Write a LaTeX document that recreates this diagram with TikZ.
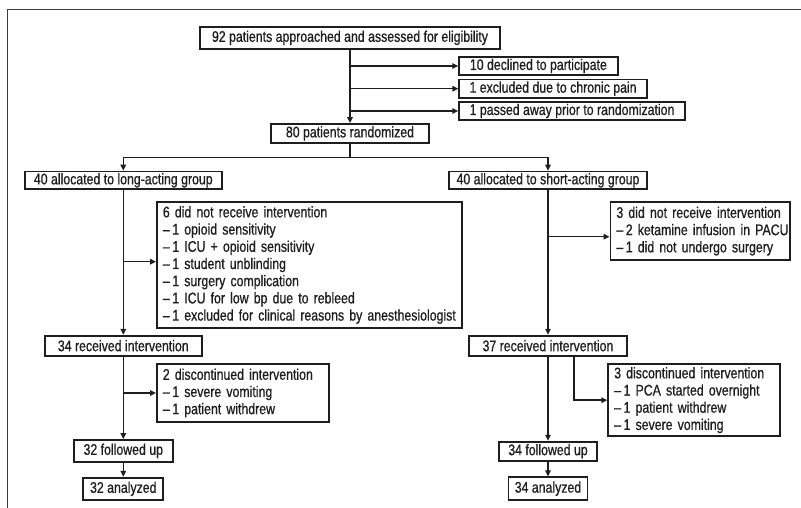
\documentclass[tikz,border=0pt]{standalone}
\usepackage{fontspec}
\setmainfont{Liberation Sans}[FakeStretch=0.80,FakeBold=0.8]
\usetikzlibrary{arrows.meta,calc}
\definecolor{ink}{HTML}{1E1E1E}
\definecolor{frame}{HTML}{3C3C3C}
\newcommand{\flowline}[1]{\mbox{#1}}
\tikzset{
  box/.style={draw=ink, line width=1.8pt, inner sep=0pt, align=center, anchor=center, text=ink},
  leftbox/.style={draw=ink, line width=1.8pt, inner xsep=0pt, inner ysep=0pt, align=center, anchor=west, text=ink},
  multibox/.style={draw=ink, line width=1.8pt, inner xsep=6pt, inner ysep=1pt, align=left, anchor=west, text=ink},
  conn/.style={draw=ink, line width=1.4pt},
  arr/.style={conn, -{Triangle[length=6pt,width=5.5pt]}},
  framestyle/.style={draw=frame, line width=1.2pt}
}
\begin{document}
\begin{tikzpicture}[x=1pt,y=-1pt,font=\fontsize{15.4}{17.2}\selectfont]
\useasboundingbox (0,0) rectangle (801,508);
% partial outer frame
\coordinate (fr1) at (801,9.5);
\coordinate (fr2) at (7.5,9.5);
\coordinate (fr3) at (7.5,508);
\draw[framestyle] (fr1) -- (fr2) -- (fr3);

% top
\node[box, minimum width=299.5pt, minimum height=22.3pt] (A) at (350,37.85) {92 patients approached and assessed for eligibility};
\node[leftbox, minimum width=158.4pt, minimum height=18.3pt] (D1) at (458.3,66) {10 declined to participate};
\node[leftbox, minimum width=187.7pt, minimum height=18.3pt] (D2) at (458.3,88.7) {1 excluded due to chronic pain};
\node[leftbox, minimum width=225.7pt, minimum height=18.7pt] (D3) at (458.3,111) {1 passed away prior to randomization};
\node[box, minimum width=157.3pt, minimum height=18.7pt] (R) at (350,133.35) {80 patients randomized};

% allocation
\node[box, minimum width=197.3pt, minimum height=17.5pt] (L1) at (123.3,180.35) {40 allocated to long-acting group};
\node[box, minimum width=197.4pt, minimum height=17.5pt] (S1) at (548,180.35) {40 allocated to short-acting group};

% exclusions after allocation
\node[multibox, text width=293pt, minimum height=126.6pt] (LX) at (156,265) {\flowline{6 did not receive intervention}\\
\flowline{\textendash\,1 opioid sensitivity}\\
\flowline{\textendash\,1 ICU + opioid sensitivity}\\
\flowline{\textendash\,1 student unblinding}\\
\flowline{\textendash\,1 surgery complication}\\
\flowline{\textendash\,1 ICU for low bp due to rebleed}\\
\flowline{\textendash\,1 excluded for clinical reasons by anesthesiologist}};
\node[multibox, text width=167.8pt, minimum height=57.7pt] (SX) at (609.5,231.15) {\flowline{3 did not receive intervention}\\
\flowline{\textendash\,2 ketamine infusion in PACU}\\
\flowline{\textendash\,1 did not undergo surgery}};

% received
\node[box, minimum width=157.3pt, minimum height=20pt] (L2) at (123.3,345.7) {34 received intervention};
\node[box, minimum width=158pt, minimum height=20pt] (S2) at (548,345.7) {37 received intervention};

% discontinued
\node[multibox, text width=160.3pt, minimum height=57.4pt] (LD) at (156,393) {\flowline{2 discontinued intervention}\\
\flowline{\textendash\,1 severe vomiting}\\
\flowline{\textendash\,1 patient withdrew}};
\node[multibox, text width=159.7pt, minimum height=71.7pt] (SD) at (607.3,400.15) {\flowline{3 discontinued intervention}\\
\flowline{\textendash\,1 PCA started overnight}\\
\flowline{\textendash\,1 patient withdrew}\\
\flowline{\textendash\,1 severe vomiting}};

% follow-up and analysis
\node[box, minimum width=99pt, minimum height=21.7pt] (L3) at (123.3,450.85) {32 followed up};
\node[box, minimum width=80pt, minimum height=22.3pt] (L4) at (123.3,488.85) {32 analyzed};
\node[box, minimum width=98.4pt, minimum height=19pt] (S3) at (548,451.2) {34 followed up};
\node[box, minimum width=79pt, minimum height=22.7pt] (S4) at (548,488.65) {34 analyzed};

% connectors: top
\draw[arr] (A.south) -- (R.north);
\draw[arr] (A.south |- D1.west) -- (D1.west);
\draw[arr] (A.south |- D2.west) -- (D2.west);
\draw[arr] (A.south |- D3.west) -- (D3.west);

% randomization split
\coordinate (sp) at (350,157.3);
\draw[conn] (R.south) -- (sp);
\draw[arr] (sp) -| (L1.north);
\draw[arr] (sp) -| (S1.north);

% long-acting arm
\draw[arr] (L1.south) -- (L2.north);
\draw[arr] (L1.south |- 0,261.7) -- (LX.west |- 0,261.7);
\draw[arr] (L2.south) -- (L3.north);
\draw[arr] (L2.south |- LD.west) -- (LD.west);
\draw[arr] (L3.south) -- (L4.north);

% short-acting arm
\draw[arr] (S1.south) -- (S2.north);
\draw[arr] (S1.south |- 0,236.7) -- (SX.west |- 0,236.7);
\draw[arr] (S2.south) -- (S3.north);
\draw[arr] ([xshift=26pt]S2.south) |- (SD.west);
\draw[arr] (S3.south) -- (S4.north);
\end{tikzpicture}
\end{document}
